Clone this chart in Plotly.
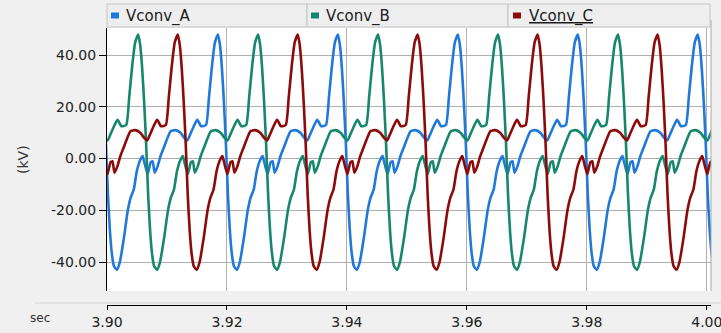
import plotly.graph_objects as go

# ---- data ----
# one cycle of the converter voltage (offset from the positive peak, ms) and value (kV)
cycle_ms = [0.0, 0.33, 0.66, 0.99, 1.32, 1.66, 1.99, 2.32, 2.65, 3.15, 3.64, 4.30,
            4.97, 5.46, 5.96, 6.46, 6.95, 7.45, 7.78, 8.28, 8.77, 9.11, 9.44, 9.93,
            10.43, 10.93, 11.42, 12.09, 12.91, 13.74, 14.40, 14.90, 15.40, 16.06,
            16.56, 17.22, 18.01, 18.51, 19.01, 19.50]
cycle_kv = [48.0, 44.0, 35.0, 22.0, 6.0, -14.0, -28.0, -37.0, -41.5, -43.0, -40.0, -31.0,
            -20.0, -15.0, -12.0, -5.0, -1.0, 1.0, -2.0, -6.0, -1.5, -1.0, -5.5, -3.0,
            1.0, 4.0, 7.0, 10.5, 11.0, 10.0, 8.0, 7.0, 9.5, 13.0,
            15.0, 12.5, 13.0, 24.0, 36.0, 45.0]
# positive-peak instants of each phase (s)
peaks_A = [3.8985, 3.9185, 3.9385, 3.9585, 3.9785, 3.9985]
peaks_B = [3.8852, 3.9052, 3.9252, 3.9452, 3.9652, 3.9852]
peaks_C = [3.8918, 3.9118, 3.9318, 3.9518, 3.9718, 3.9918]

series_names = ["Vconv_A", "Vconv_B", "Vconv_C"]
series_colors = ["#2079d9", "#17876c", "#8c0a0a"]
x_ticks = [3.90, 3.92, 3.94, 3.96, 3.98, 4.00]
x_ticktext = ["3.90", "3.92", "3.94", "3.96", "3.98", "4.00"]
y_ticks = [-40, -20, 0, 20, 40]
y_ticktext = ["-40.00", "-20.00", "0.00", "20.00", "40.00"]


def build(peaks):
    t, v = [], []
    for p in peaks:
        for off, val in zip(cycle_ms, cycle_kv):
            t.append(p + off / 1000.0)
            v.append(val)
    t.append(peaks[-1] + 0.02)
    v.append(cycle_kv[0])
    return t, v


fig = go.Figure()
for name, col, pk in zip(series_names, series_colors, [peaks_A, peaks_B, peaks_C]):
    t, v = build(pk)
    fig.add_trace(go.Scatter(x=t, y=v, mode="lines", name=name,
                             line=dict(color=col, width=2.6, shape="spline", smoothing=0.5),
                             showlegend=False, hoverinfo="skip"))

W, H = 721, 333
L, R, T, B = 107, 10, 0, 28
paper_h = H - T - B
paper_w = W - L - R
plot_top, plot_bot = 28, 291


def py(y):
    return (H - B - y) / paper_h


def px(x):
    return (x - L) / paper_w


font = "DejaVu Sans"
XR = [3.90, 4.0007]

fig.update_layout(
    width=W, height=H,
    margin=dict(l=L, r=R, t=T, b=B),
    paper_bgcolor="#f0f0f0", plot_bgcolor="white",
    font=dict(family=font, size=13, color="#222222"),
    xaxis=dict(range=XR, domain=[0, 1], tickvals=x_ticks, showticklabels=False,
               showgrid=True, gridcolor="#b0b0b0", gridwidth=1, zeroline=False,
               showline=False, ticks=""),
    xaxis2=dict(range=XR, overlaying="x", anchor="free", position=0, side="bottom",
                tickvals=x_ticks, ticktext=x_ticktext, showgrid=False, zeroline=False,
                showline=True, linecolor="#000000", linewidth=1, ticks="outside",
                ticklen=4, tickcolor="#000000", ticklabeloverflow="allow",
                tickfont=dict(size=14, color="#222222")),
    yaxis=dict(range=[-51.2, 50.5], domain=[py(plot_bot), py(plot_top)],
               tickvals=y_ticks, ticktext=y_ticktext, showgrid=True, gridcolor="#b0b0b0",
               gridwidth=1, zeroline=False, showline=True, linecolor="#000000", linewidth=1,
               ticks="outside", ticklen=7, tickcolor="#000000",
               tickfont=dict(size=14, color="#222222")),
)
# invisible trace to keep the lower axis alive
fig.add_trace(go.Scatter(x=XR, y=[0, 0], xaxis="x2", yaxis="y", mode="lines",
                         line=dict(width=0, color="rgba(0,0,0,0)"),
                         showlegend=False, hoverinfo="skip"))

shapes = []
# right border of plot area
shapes.append(dict(type="line", xref="paper", yref="paper", x0=1, x1=1,
                   y0=py(plot_bot), y1=py(20), line=dict(color="#a8a8a8", width=1)))
# separator line above bottom axis
shapes.append(dict(type="line", xref="paper", yref="paper", x0=px(35), x1=px(721),
                   y0=py(303), y1=py(303), line=dict(color="#d4d4d4", width=1)))
# legend header boxes
boxes = [(107, 307), (307, 508), (508, 710)]
for x0, x1 in boxes:
    shapes.append(dict(type="rect", xref="paper", yref="paper", x0=px(x0), x1=px(x1),
                       y0=py(27), y1=py(4), fillcolor="#eeeeee",
                       line=dict(color="#c4c4c4", width=1), layer="above"))
annotations = []
sq_x = [111, 311, 513]
tx_x = [124, 324, 527]
for i, (name, col) in enumerate(zip(series_names, series_colors)):
    shapes.append(dict(type="rect", xref="paper", yref="paper", x0=px(sq_x[i]),
                       x1=px(sq_x[i] + 8), y0=py(18.5), y1=py(12.5), fillcolor=col,
                       line=dict(width=0), layer="above"))
    txt = name if i < 2 else "<u>" + name + "</u>"
    annotations.append(dict(xref="paper", yref="paper", x=px(tx_x[i]), y=py(16),
                            xanchor="left", yanchor="middle", text=txt, showarrow=False,
                            font=dict(family=font, size=15, color="#1a1a1a")))
annotations.append(dict(xref="paper", yref="paper", x=px(23), y=py(160), text="(kV)",
                        textangle=-90, showarrow=False, xanchor="center", yanchor="middle",
                        font=dict(family=font, size=14, color="#333333")))
annotations.append(dict(xref="paper", yref="paper", x=px(40), y=py(318), text="sec",
                        showarrow=False, xanchor="center", yanchor="middle",
                        font=dict(family=font, size=12, color="#333333")))
fig.update_layout(shapes=shapes, annotations=annotations)

fig.write_html("out.html", config={"displayModeBar": False},
               post_script="document.body.style.margin='0';document.body.style.overflow='hidden';")
